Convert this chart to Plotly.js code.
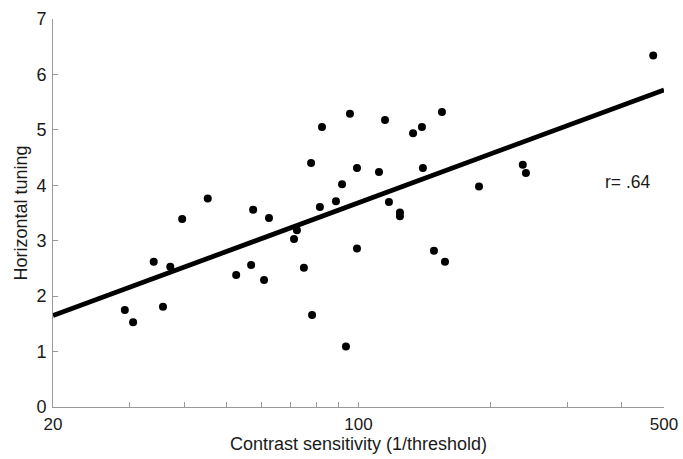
<!DOCTYPE html>
<html>
<head>
<meta charset="utf-8">
<script src="https://cdn.plot.ly/plotly-3.0.1.min.js"></script>
<style>html,body{margin:0;padding:0;background:#fff;}#chart{width:683px;height:459px;}</style>
</head>
<body>
<div id="chart"></div>
<script>
// Contrast sensitivity (x, log scale) vs horizontal tuning (y)
const contrastSensitivity = [29.2, 30.5, 34.0, 35.7, 37.1, 39.5, 45.2, 52.5, 56.8, 57.4,
  60.8, 62.4, 71.2, 72.3, 75.0, 77.9, 78.3, 81.6, 82.5, 88.8,
  91.7, 93.6, 95.6, 99.2, 99.2, 111.4, 115.0, 117.4, 124.4, 124.4,
  133.3, 139.7, 140.4, 148.8, 155.2, 157.7, 188.7, 237.6, 241.6, 472.4];
const horizontalTuning = [1.75, 1.53, 2.62, 1.81, 2.53, 3.39, 3.76, 2.38, 2.56, 3.56,
  2.29, 3.41, 3.03, 3.19, 2.51, 4.40, 1.66, 3.61, 5.05, 3.71,
  4.02, 1.09, 5.29, 4.31, 2.86, 4.24, 5.18, 3.70, 3.51, 3.44,
  4.94, 5.05, 4.31, 2.82, 5.32, 2.62, 3.98, 4.37, 4.22, 6.34];
// Regression line endpoints
const fitX = [20, 500];
const fitY = [1.65, 5.72];
const rLabel = "r= .64";
const xTickVals = [20, 30, 40, 50, 60, 70, 80, 90, 100, 200, 300, 400, 500];
const xTickText = ["20", "", "", "", "", "", "", "", "100", "", "", "", "500"];
const yTickVals = [0, 1, 2, 3, 4, 5, 6, 7];

const font = {family: "Liberation Sans, Arial, Helvetica, sans-serif", color: "#1a1a1a"};

const data = [
  {x: fitX, y: fitY, mode: "lines", line: {color: "#000", width: 4.8}, hoverinfo: "skip", showlegend: false},
  {x: contrastSensitivity, y: horizontalTuning, mode: "markers", marker: {color: "#000", size: 8}, showlegend: false}
];

const layout = {
  width: 683, height: 459,
  margin: {l: 53, r: 19, t: 19, b: 52},
  paper_bgcolor: "#fff", plot_bgcolor: "#fff",
  font: Object.assign({size: 17}, font),
  showlegend: false,
  xaxis: {
    type: "log",
    range: [Math.log10(20), Math.log10(500)],
    tickmode: "array", tickvals: xTickVals, ticktext: xTickText,
    ticks: "inside", ticklen: 5, tickcolor: "#999", tickwidth: 1,
    showline: true, linecolor: "#999", linewidth: 1,
    showgrid: false, zeroline: false,
    tickfont: Object.assign({size: 17}, font),
    ticklabelstandoff: 2,
    title: {text: "Contrast sensitivity (1/threshold)", font: Object.assign({size: 18}, font), standoff: 0}
  },
  yaxis: {
    range: [0, 7],
    tickmode: "array", tickvals: yTickVals,
    ticks: "inside", ticklen: 5, tickcolor: "#999", tickwidth: 1,
    showline: true, linecolor: "#999", linewidth: 1,
    showgrid: false, zeroline: false,
    tickfont: Object.assign({size: 18}, font),
    ticklabelstandoff: 2,
    title: {text: "Horizontal tuning", font: Object.assign({size: 18}, font), standoff: 4}
  },
  annotations: [{
    x: 0.941, y: 0.58, xref: "paper", yref: "paper",
    text: rLabel, showarrow: false, xanchor: "center", yanchor: "middle",
    font: Object.assign({size: 17.5}, font)
  }]
};

Plotly.newPlot("chart", data, layout, {displayModeBar: false, staticPlot: true});
</script>
</body>
</html>
